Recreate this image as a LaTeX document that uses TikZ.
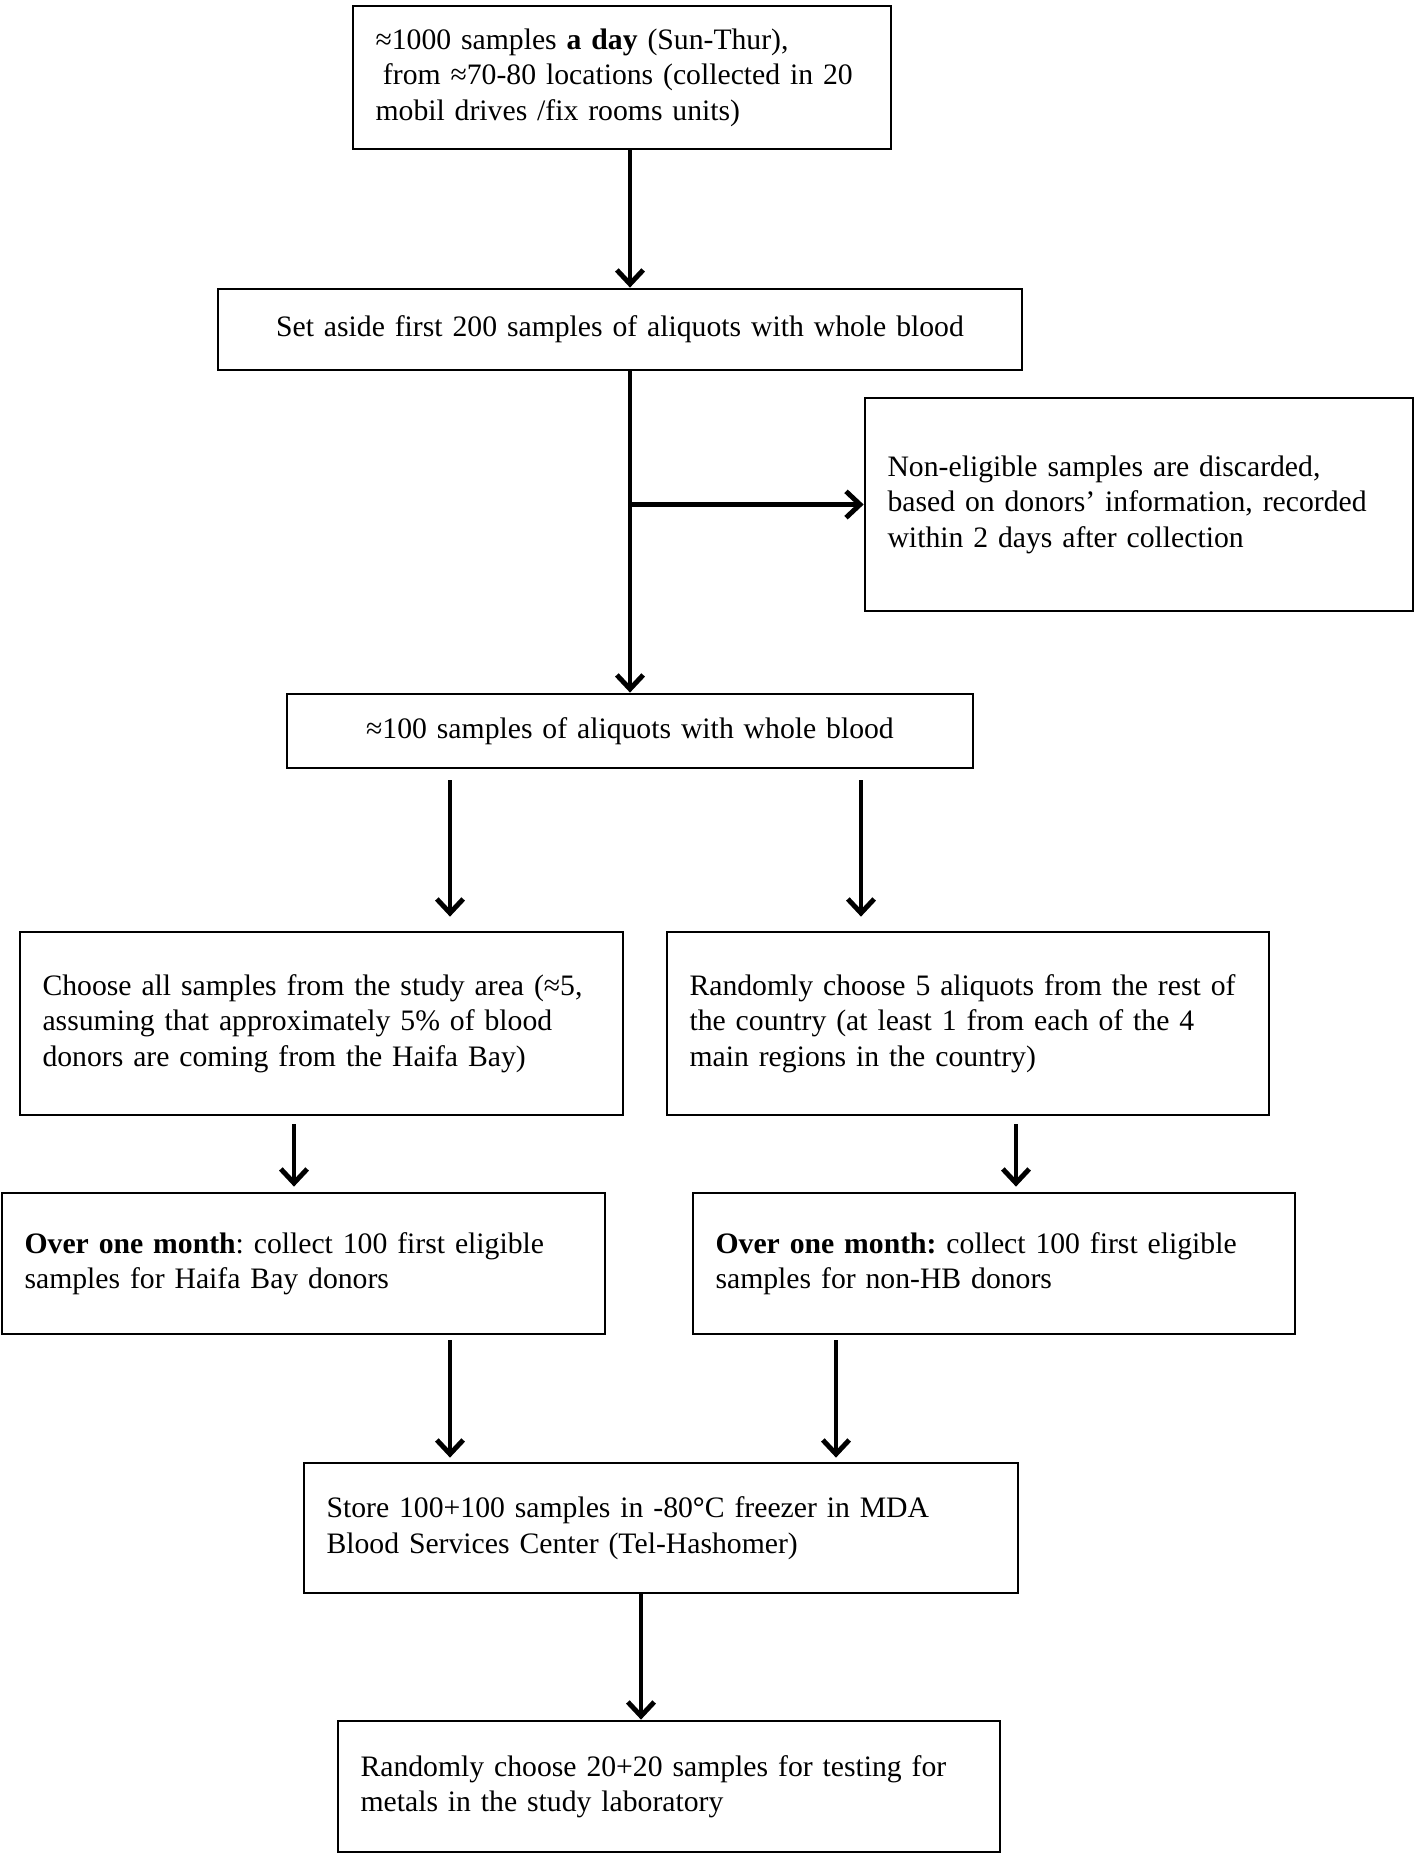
\documentclass[tikz,border=0pt]{standalone}
\usepackage{fontspec}
\setmainfont{Liberation Serif}
\usepackage{tikz}
\usetikzlibrary{arrows.meta,calc}
\frenchspacing

\tikzset{
  box/.style={draw,line width=1.6pt,align=left,inner xsep=0.45cm,inner ysep=2pt,
    font=\fontsize{16.9}{20.2}\selectfont},
  cbox/.style={box,align=center},
  arr/.style={line width=2.8pt,-{Straight Barb[length=8pt,width=15pt,line width=2.8pt]}}
}

\begin{document}
\begin{tikzpicture}[x=0.02cm,y=-0.02cm]
  \useasboundingbox (0,0) rectangle (1418,1857);
  %\draw[very thin,lightgray] (0,0) grid[step=100] (1418,1857);
  \node[box,text width=9.86cm,minimum height=2.86cm] (top) at (622,77.5)
    {≈1000 samples \textbf{a day} (Sun-Thur),\\
     \hspace{0.25em}from ≈70-80 locations (collected in 20\\
     mobil drives /fix rooms units)};
  \node[cbox,text width=15.18cm,minimum height=1.62cm] (aside) at (620,329.5)
    {Set aside first 200 samples of aliquots with whole blood};
  \node[box,text width=10.06cm,minimum height=4.26cm] (discard) at (1139,504.5)
    {Non-eligible samples are discarded,\\
     based on donors’ information, recorded\\
     within 2 days after collection};
  \node[cbox,text width=12.82cm,minimum height=1.48cm] (hundred) at (630,731)
    {≈100 samples of aliquots with whole blood};
  \node[box,text width=11.16cm,minimum height=3.66cm] (area) at (321.5,1023.5)
    {Choose all samples from the study area (≈5,\\
     assuming that approximately 5\% of blood\\
     donors are coming from the Haifa Bay)};
  \node[box,text width=11.14cm,minimum height=3.66cm] (rest) at (968,1023.5)
    {Randomly choose 5 aliquots from the rest of\\
     the country (at least 1 from each of the 4\\
     main regions in the country)};
  \node[box,text width=11.16cm,minimum height=2.82cm] (haifa) at (303.5,1263.5)
    {\textbf{Over one month}: collect 100 first eligible\\
     samples for Haifa Bay donors};
  \node[box,text width=11.14cm,minimum height=2.82cm] (nonhb) at (994,1263.5)
    {\textbf{Over one month:} collect 100 first eligible\\
     samples for non-HB donors};
  \node[box,text width=13.38cm,minimum height=2.6cm] (store) at (661,1528)
    {Store 100+100 samples in -80\textbf{°}C freezer in MDA\\
     Blood Services Center (Tel-Hashomer)};
  \node[box,text width=12.34cm,minimum height=2.62cm] (test) at (669,1786.5)
    {Randomly choose 20+20 samples for testing for\\
     metals in the study laboratory};

  \coordinate (lcol) at (450,0);
  \coordinate (rcol) at (861,0);
  \coordinate (hbcol) at (294,0);
  \coordinate (nhbcol) at (1016,0);
  \coordinate (rcol2) at (836,0);
  \coordinate (lastcol) at (641,0);

  \draw[arr] (top.south -| hundred.north) -- (aside.north -| hundred.north);
  \draw[arr] (aside.south -| hundred.north) -- (hundred.north);
  \draw[arr] (discard.west -| hundred.north) -- (discard.west);
  \draw[arr,shorten <=0.22cm,shorten >=0.28cm] (hundred.south -| lcol) -- (area.north -| lcol);
  \draw[arr,shorten <=0.22cm,shorten >=0.28cm] (hundred.south -| rcol) -- (rest.north -| rcol);
  \draw[arr,shorten <=0.16cm,shorten >=0.1cm] (area.south -| hbcol) -- (haifa.north -| hbcol);
  \draw[arr,shorten <=0.16cm,shorten >=0.1cm] (rest.south -| nhbcol) -- (nonhb.north -| nhbcol);
  \draw[arr,shorten <=0.1cm,shorten >=0.08cm] (haifa.south -| lcol) -- (store.north -| lcol);
  \draw[arr,shorten <=0.1cm,shorten >=0.08cm] (nonhb.south -| rcol2) -- (store.north -| rcol2);
  \draw[arr] (store.south -| lastcol) -- (test.north -| lastcol);
\end{tikzpicture}
\end{document}
